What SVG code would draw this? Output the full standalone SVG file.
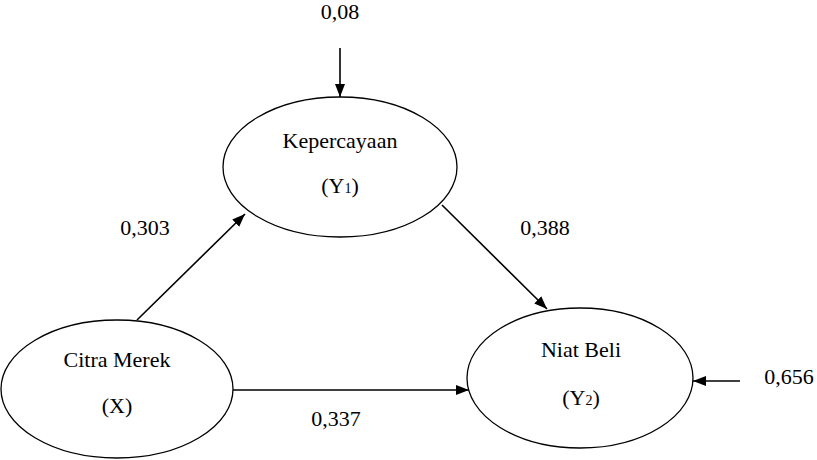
<svg xmlns="http://www.w3.org/2000/svg" width="817" height="460" viewBox="0 0 817 460">
<style>
.n{fill:#fff;stroke:#000;stroke-width:1.3}
.t{font-family:"Liberation Serif","Times New Roman",serif;font-size:22px;fill:#000;text-anchor:middle}
.s{font-size:14px}
.c{stroke:#000;stroke-width:1.6;fill:none;marker-end:url(#ah)}
</style>
<defs>
<marker id="ah" markerUnits="userSpaceOnUse" markerWidth="14" markerHeight="12" refX="13" refY="6" orient="auto">
<path d="M0,1 L13,6 L0,11 Z" fill="#000"/>
</marker>
</defs>
<rect width="817" height="460" fill="#fff"/>
<g id="connectors">
<line class="c" x1="340" y1="48" x2="340" y2="97"/>
<line class="c" x1="137" y1="320" x2="245" y2="214"/>
<line class="c" x1="442" y1="205" x2="547" y2="309"/>
<line class="c" x1="233" y1="390" x2="469" y2="390"/>
<line class="c" x1="740" y1="381" x2="693" y2="381"/>
</g>
<g id="kepercayaan">
<ellipse class="n" cx="340" cy="167" rx="117" ry="70"/>
<text class="t" x="340" y="148">Kepercayaan</text>
<text class="t" x="340" y="193">(Y<tspan class="s">1</tspan>)</text>
</g>
<g id="citra-merek">
<ellipse class="n" cx="117" cy="389" rx="116" ry="69"/>
<text class="t" x="117" y="367">Citra Merek</text>
<text class="t" x="117" y="413">(X)</text>
</g>
<g id="niat-beli">
<ellipse class="n" cx="580" cy="378" rx="113" ry="70"/>
<text class="t" x="581" y="357">Niat Beli</text>
<text class="t" x="581" y="405">(Y<tspan class="s">2</tspan>)</text>
</g>
<g id="labels">
<text class="t" x="340" y="19">0,08</text>
<text class="t" x="145" y="235">0,303</text>
<text class="t" x="545" y="235">0,388</text>
<text class="t" x="336" y="426">0,337</text>
<text class="t" x="789" y="384">0,656</text>
</g>
</svg>
